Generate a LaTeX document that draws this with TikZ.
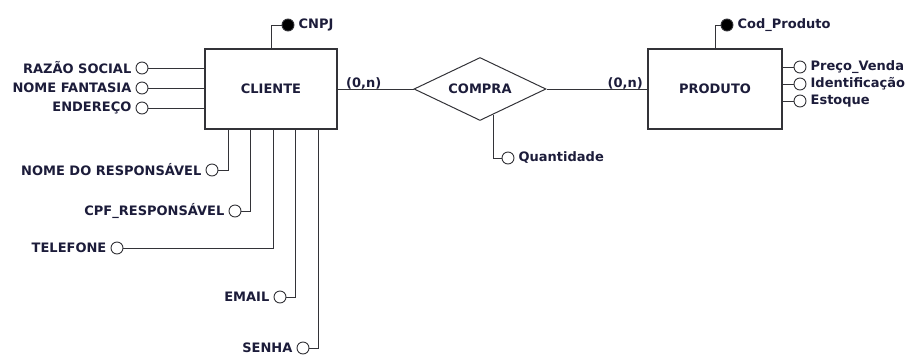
\documentclass[tikz,border=0pt]{standalone}
\usepackage{fontspec}
\setmainfont{DejaVu Sans}
\usetikzlibrary{shapes.geometric,positioning,calc}

\definecolor{tinta}{HTML}{1C1C3A}
\definecolor{traco}{HTML}{333338}

\tikzset{
  entidade/.style={rectangle, draw=traco, line width=1.4pt, minimum width=132pt, minimum height=80pt,
    text=tinta, font={\fontsize{13}{15}\selectfont\bfseries}},
  relacao/.style={diamond, draw=traco, line width=1pt, aspect=2, inner sep=0pt, minimum width=132pt,
    minimum height=63pt, text=tinta, font={\fontsize{13}{15}\selectfont\bfseries}},
  atrib/.style={circle, draw=traco, line width=0.9pt, fill=white, minimum size=12pt, inner sep=0pt},
  chave/.style={atrib, fill=black},
  rotulo/.style={inner sep=1pt, text=tinta, font={\fontsize{13}{15}\selectfont\bfseries}},
  liga/.style={draw=traco, line width=1pt}
}

\begin{document}
\begin{tikzpicture}[x=1pt, y=-1pt]
  \useasboundingbox (0,0) rectangle (914,357);

  % entidades e relacionamento
  \node[entidade] (cliente) at (271,89) {CLIENTE};
  \node[relacao] (compra) at (480,89) {COMPRA};
  \node[entidade, minimum width=134pt] (produto) at (715,89) {PRODUTO};

  \draw[liga] (cliente.east) -- (compra.west);
  \draw[liga] (compra.east) -- (produto.west);
  \node[rotulo, anchor=south west] (card1) at (345,91) {(0,n)};
  \node[rotulo, anchor=south east] (card2) at (644,91) {(0,n)};

  % atributos de CLIENTE
  \node[chave] (cnpj) at (288,25) {};
  \node[rotulo, right=3pt of cnpj] (cnpjtxt) {CNPJ};
  \draw[liga] (cnpj.west) -| (cliente.north);

  \node[atrib] (razao) at (142,68) {};
  \node[rotulo, left=3pt of razao] (razaotxt) {RAZÃO SOCIAL};
  \draw[liga] (razao.east) -- (razao -| cliente.west);

  \node[atrib] (fantasia) at (142,88) {};
  \node[rotulo, left=3pt of fantasia] (fantasiatxt) {NOME FANTASIA};
  \draw[liga] (fantasia.east) -- (fantasia -| cliente.west);

  \node[atrib] (ender) at (142,108) {};
  \node[rotulo, left=3pt of ender] (endertxt) {ENDEREÇO};
  \draw[liga] (ender.east) -- (ender -| cliente.west);

  \node[atrib] (resp) at (212,170) {};
  \node[rotulo, left=3pt of resp] (resptxt) {NOME DO RESPONSÁVEL};
  \draw[liga] (resp.east) -| ([xshift=-43pt]cliente.south);

  \node[atrib] (cpf) at (235,211) {};
  \node[rotulo, left=3pt of cpf] (cpftxt) {CPF\_RESPONSÁVEL};
  \draw[liga] (cpf.east) -| ([xshift=-20.5pt]cliente.south);

  \node[atrib] (tel) at (117,248) {};
  \node[rotulo, left=3pt of tel] (teltxt) {TELEFONE};
  \draw[liga] (tel.east) -| ([xshift=2pt]cliente.south);

  \node[atrib] (email) at (280,297) {};
  \node[rotulo, left=3pt of email] (emailtxt) {EMAIL};
  \draw[liga] (email.east) -| ([xshift=24.5pt]cliente.south);

  \node[atrib] (senha) at (303,348) {};
  \node[rotulo, left=3pt of senha] (senhatxt) {SENHA};
  \draw[liga] (senha.east) -| ([xshift=47pt]cliente.south);

  % atributo de COMPRA
  \coordinate (qbase) at ($(compra.south)!0.2!(compra.east)$);
  \node[atrib] (quant) at (508,158) {};
  \node[rotulo, right=3pt of quant] (quanttxt) {Quantidade};
  \draw[liga] (qbase) |- (quant.west);

  % atributos de PRODUTO
  \node[chave] (codprod) at (727,25) {};
  \node[rotulo, right=3pt of codprod] (codprodtxt) {Cod\_Produto};
  \draw[liga] (codprod.west) -| (produto.north);

  \node[atrib] (preco) at (800,67) {};
  \node[rotulo, right=3pt of preco] (precotxt) {Preço\_Venda};
  \draw[liga] (produto.east |- preco) -- (preco.west);

  \node[atrib] (ident) at (800,84) {};
  \node[rotulo, right=3pt of ident] (identtxt) {Identificação};
  \draw[liga] (produto.east |- ident) -- (ident.west);

  \node[atrib] (estoque) at (800,101) {};
  \node[rotulo, right=3pt of estoque] (estoquetxt) {Estoque};
  \draw[liga] (produto.east |- estoque) -- (estoque.west);
\end{tikzpicture}
\end{document}
